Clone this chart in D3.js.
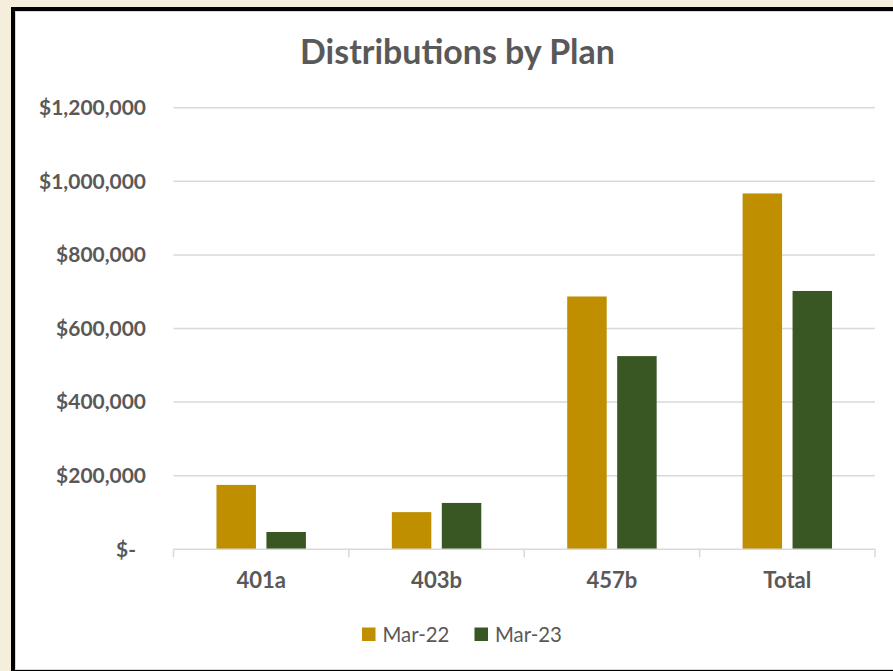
<!DOCTYPE html>
<html>
<head>
<meta charset="utf-8">
<script src="https://cdn.jsdelivr.net/npm/d3@7"></script>
<style>
  html, body { margin: 0; padding: 0; background: #F6EEDD; }
  svg { display: block; }
</style>
</head>
<body>
<svg id="chart" width="893" height="671"></svg>
<script>
// ---- data ----
const categories = ["401a", "403b", "457b", "Total"];
const seriesNames = ["Mar-22", "Mar-23"];
const mar22 = [175000, 101000, 687000, 967000];
const mar23 = [47000, 126000, 525000, 702000];
const yTicks = [0, 200000, 400000, 600000, 800000, 1000000, 1200000];
const colors = ["#BF8F00", "#385723"];
const title = "Distributions by Plan";

const FONT = "Lato, 'Open Sans', 'DejaVu Sans', sans-serif";
const TEXT = "#595959";

const svg = d3.select("#chart");

// frame
svg.append("rect").attr("x", 0).attr("y", 0).attr("width", 893).attr("height", 671).attr("fill", "#F6EEDD");
svg.append("rect").attr("x", 11).attr("y", 7).attr("width", 900).attr("height", 700).attr("fill", "#000");
svg.append("rect").attr("x", 15.5).attr("y", 11.5).attr("width", 900).attr("height", 658)
  .attr("fill", "#fff").attr("stroke", "#d9d9d9").attr("stroke-width", 1);

function fit(sel, target, base) {
  sel.attr("font-size", base);
  const w = sel.node().getComputedTextLength();
  sel.attr("font-size", base * target / w);
}

// scales
const plot = { left: 173.5, right: 875, top: 107.7, bottom: 549.3 };
const x = d3.scaleBand().domain(categories).range([plot.left, plot.right]).paddingInner(0).paddingOuter(0);
const x1 = d3.scaleBand().domain(seriesNames).range([0, x.bandwidth()]).paddingInner(0.21).paddingOuter(0.86);
const y = d3.scaleLinear().domain([0, 1200000]).range([plot.bottom, plot.top]);

// gridlines
svg.append("g").selectAll("line").data(yTicks.filter(d => d > 0)).join("line")
  .attr("x1", plot.left).attr("x2", plot.right)
  .attr("y1", d => y(d)).attr("y2", d => y(d))
  .attr("stroke", "#d9d9d9").attr("stroke-width", 1.5);

// y axis labels
const fmt = d => d === 0 ? "$-" : "$" + d3.format(",")(d);
const yLab = svg.append("g").selectAll("text").data(yTicks).join("text")
  .attr("x", 146).attr("y", d => y(d)).attr("dy", "0.35em")
  .attr("text-anchor", "end")
  .attr("font-family", FONT).attr("font-weight", "bold").attr("fill", TEXT)
  .text(fmt);
{
  const probe = svg.append("text").attr("font-family", FONT).attr("font-weight", "bold").text("$1,000,000");
  probe.attr("font-size", 20);
  const w = probe.node().getComputedTextLength();
  probe.remove();
  const fs = 20 * 107 / w;
  yLab.attr("font-size", fs);
  yLab.filter(d => d === 0).attr("x", 136);
}

// bars
const data = categories.map((c, i) => ({ cat: c, vals: [mar22[i], mar23[i]] }));
const groups = svg.append("g").selectAll("g").data(data).join("g")
  .attr("transform", d => `translate(${x(d.cat)},0)`);
groups.selectAll("rect").data(d => d.vals.map((v, j) => ({ key: seriesNames[j], v, j }))).join("rect")
  .attr("x", d => x1(d.key)).attr("width", x1.bandwidth())
  .attr("y", d => y(d.v)).attr("height", d => y(0) - y(d.v))
  .attr("fill", d => colors[d.j]);

// x axis line & ticks
const xa = svg.append("g");
xa.append("line").attr("x1", plot.left).attr("x2", plot.right).attr("y1", plot.bottom).attr("y2", plot.bottom)
  .attr("stroke", "#d9d9d9").attr("stroke-width", 1.5);
const tickX = categories.map(c => x(c)).concat([plot.right]);
xa.selectAll("line.t").data(tickX).join("line").attr("class", "t")
  .attr("x1", d => d).attr("x2", d => d).attr("y1", plot.bottom).attr("y2", plot.bottom + 8)
  .attr("stroke", "#d9d9d9").attr("stroke-width", 1.5);
const xLab = xa.selectAll("text").data(categories).join("text")
  .attr("x", d => x(d) + x.bandwidth() / 2).attr("y", 588)
  .attr("text-anchor", "middle").attr("font-family", FONT).attr("font-weight", "bold").attr("fill", TEXT)
  .text(d => d);
{
  const probe = svg.append("text").attr("font-family", FONT).attr("font-weight", "bold").text("Total");
  probe.attr("font-size", 20);
  const w = probe.node().getComputedTextLength();
  probe.remove();
  xLab.attr("font-size", 20 * 48 / w);
}

// title
const t = svg.append("text").attr("x", 457.5).attr("y", 64).attr("text-anchor", "middle")
  .attr("font-family", FONT).attr("font-weight", "bold").attr("fill", TEXT).text(title);
fit(t, 315, 30);

// legend
const legendX = [362, 474.5];
const lg = svg.append("g").selectAll("g").data(seriesNames).join("g")
  .attr("transform", (d, i) => `translate(${legendX[i]},627.5)`);
lg.append("rect").attr("width", 13.5).attr("height", 13.5).attr("fill", (d, i) => colors[i]);
const lt = lg.append("text").attr("x", 20.5).attr("y", 14).attr("font-family", FONT).attr("fill", TEXT).text(d => d);
{
  const probe = svg.append("text").attr("font-family", FONT).text("Mar-22");
  probe.attr("font-size", 20);
  const w = probe.node().getComputedTextLength();
  probe.remove();
  lt.attr("font-size", 20 * 67 / w);
}
</script>
</body>
</html>
